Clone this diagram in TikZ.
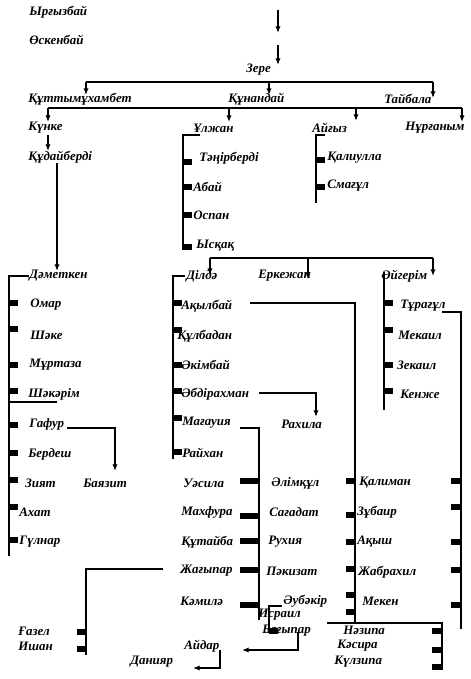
\documentclass[tikz,border=0pt]{standalone}
\usepackage{fontspec}
\setmainfont{Liberation Serif}
\usetikzlibrary{arrows.meta}
\newcommand\mytick[3]{\fill (#1,#3-2.7) rectangle (#2,#3+2.7);}
\begin{document}
\begin{tikzpicture}[x=0.75pt,y=-0.75pt,
  nm/.style={anchor=west,inner sep=0pt,font=\bfseries\itshape\fontsize{9.7}{12}\selectfont},
  ln/.style={line width=1.15pt},
  ar/.style={ln,-{Latex[length=5pt,width=4pt]}}]
\useasboundingbox (0,0) rectangle (471,679);
% ---- names
\node[nm] (irg) at (29,12) {Ырғызбай};
\node[nm] (osk) at (29,40) {Өскенбай};
\node[nm] (zere) at (246,70) {Зере};
\node[nm] (kut) at (28,99) {Құттымұхамбет};
\node[nm] (kun) at (228,99) {Құнандай};
\node[nm] (tai) at (384,99) {Тайбала};
\node[nm] (kunke) at (28,128) {Күнке};
\node[nm] (ulzh) at (193,128) {Ұлжан};
\node[nm] (aig) at (312,128) {Айғыз};
\node[nm] (nur) at (405,128) {Нұрғаным};
\node[nm] (kud) at (28,157) {Құдайберді};
\node[nm] (ten) at (199,158) {Тәңірберді};
\node[nm] (abai) at (193,187) {Абай};
\node[nm] (ospan) at (193,215) {Оспан};
\node[nm] (yskak) at (196,246) {Ысқақ};
\node[nm] (kal) at (327,158) {Қалиулла};
\node[nm] (smag) at (327,186) {Смағұл};
\node[nm] (damet) at (29,276) {Дәметкен};
\node[nm] (dilda) at (186,276) {Ділдә};
\node[nm] (erk) at (258,276) {Еркежан};
\node[nm] (aig2) at (381,276) {Әйгерім};
\node[nm] (omar) at (30,305) {Омар};
\node[nm] (shake) at (30,335) {Шәке};
\node[nm] (murt) at (29,365) {Мұртаза};
\node[nm] (shak) at (28,394) {Шәкәрім};
\node[nm] (gafur) at (29,424) {Гафур};
\node[nm] (berd) at (28,454) {Бердеш};
\node[nm] (ziyat) at (25,483) {Зият};
\node[nm] (ahat) at (19,512) {Ахат};
\node[nm] (gul) at (19,542) {Гүлнар};
\node[nm] (bayaz) at (83,483) {Баязит};
\node[nm] (akyl) at (181,306) {Ақылбай};
\node[nm] (kulb) at (177,336) {Құлбадан};
\node[nm] (akim) at (181,365) {Әкімбай};
\node[nm] (abd) at (181,394) {Әбдірахман};
\node[nm] (mag) at (182,423) {Мағауия};
\node[nm] (raih) at (182,453) {Райхан};
\node[nm] (rah) at (281,424) {Рахила};
\node[nm] (tur) at (400,306) {Тұрағұл};
\node[nm] (mek) at (398,335) {Мекаил};
\node[nm] (zek) at (397,365) {Зекаил};
\node[nm] (kenzh) at (400,394) {Кенже};
\node[nm] (uas) at (183,483) {Уәсила};
\node[nm] (mahf) at (181,512) {Махфура};
\node[nm] (kut2) at (181,542) {Құтайба};
\node[nm] (zhag) at (180,571) {Жағыпар};
\node[nm] (kam) at (180,601) {Кәмилә};
\node[nm] (alim) at (271,483) {Әлімқұл};
\node[nm] (sag) at (269,512) {Сағадат};
\node[nm] (ruh) at (268,542) {Рухия};
\node[nm] (pak) at (266,571) {Пәкизат};
\node[nm] (kalim) at (359,483) {Қалиман};
\node[nm] (zub) at (357,512) {Зұбаир};
\node[nm] (akysh) at (357,542) {Ақыш};
\node[nm] (zhab) at (358,572) {Жабрахил};
\node[nm] (meken) at (362,601) {Мекен};
\node[nm] (aub) at (283,601) {Әубәкір};
\node[nm] (isr) at (258,615) {Исраил};
\node[nm] (bag) at (262,631) {Бағыпар};
\node[nm] (gaz) at (18,631) {Ғазел};
\node[nm] (ish) at (18,646) {Ишан};
\node[nm] (aidar) at (184,646) {Айдар};
\node[nm] (dan) at (130,662) {Данияр};
\node[nm] (naz) at (343,630) {Нәзипа};
\node[nm] (kas) at (337,646) {Кәсира};
\node[nm] (kulz) at (334,662) {Күлзипа};
% ---- connectors
\draw[ar] (278,10) -- (278,33);
\draw[ar] (278,45) -- (278,65);
\draw[ln] (86,82) -- (433,82);
\draw[ar] (86,82) -- (86,95);
\draw[ar] (269,82) -- (269,95);
\draw[ar] (433,82) -- (433,98);
\draw[ln] (48,108) -- (462,108);
\draw[ar] (48,108) -- (48,122);
\draw[ar] (229,108) -- (229,122);
\draw[ar] (356,108) -- (356,121);
\draw[ar] (462,108) -- (462,122);
\draw[ar] (48,135) -- (48,151);
\draw[ar] (57,163) -- (57,271);
\draw[ln] (200,135) -- (183,135) -- (183,250);
\mytick{183}{192}{162}\mytick{183}{192}{187}\mytick{183}{192}{215}\mytick{183}{192}{247}
\draw[ln] (325,135) -- (316,135) -- (316,203);
\mytick{316}{325}{160}\mytick{316}{325}{187}
\draw[ln] (210,258) -- (433,258);
\draw[ar] (210,258) -- (210,275);
\draw[ar] (308,258) -- (308,279);
\draw[ar] (433,258) -- (433,276);
% Dametken
\draw[ln] (29,276) -- (9,276) -- (9,556);
\foreach \y in {303,329,365,391,425,453,480,507,540} {\mytick{9}{18}{\y}}
\draw[ln] (9,402) -- (57,402);
\draw[ar] (67,428) -- (115,428) -- (115,471);
% Dilda
\draw[ln] (185,276) -- (173,276) -- (173,459);
\foreach \y in {303,330,365,391,418,452} {\mytick{173}{182}{\y}}
\draw[ln] (250,303) -- (355,303) -- (355,623);
\foreach \y in {481,515,542,569,595,612} {\mytick{346}{355}{\y}}
\draw[ar] (259,393) -- (316,393) -- (316,417);
\draw[ln] (240,428) -- (259,428) -- (259,620);
\foreach \y in {481,516,541,570,605} {\mytick{240}{259}{\y}}
% Aigerim
\draw[ln] (384,272) -- (384,410);
\foreach \y in {303,330,365,391} {\mytick{384}{393}{\y}}
\draw[ln] (442,312) -- (461,312) -- (461,629);
\foreach \y in {481,507,542,570,605} {\mytick{451}{461}{\y}}
% bottom
\draw[ln] (163,569) -- (86,569) -- (86,655);
\mytick{77}{86}{632}\mytick{77}{86}{649}
\draw[ln] (282,606) -- (269,606) -- (269,633);
\mytick{269}{278}{631}
\draw[ar] (298,632) -- (298,650) -- (242,650);
\draw[ar] (220,650) -- (220,668) -- (193,668);
\draw[ln] (327,623) -- (442,623) -- (442,670);
\foreach \y in {631,650,667} {\mytick{432}{442}{\y}}
\end{tikzpicture}
\end{document}
